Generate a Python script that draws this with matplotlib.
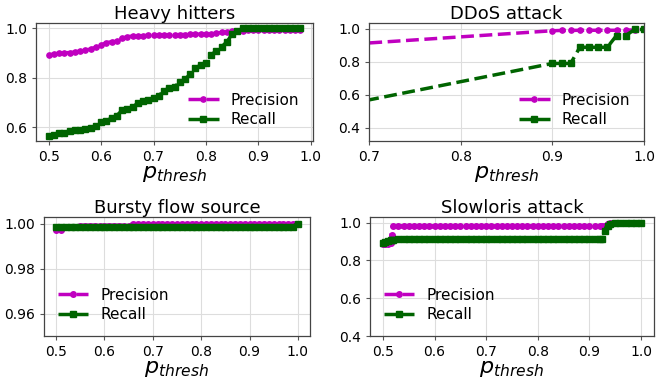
import matplotlib
matplotlib.use('Agg')
import matplotlib.pyplot as plt

# ---------------- data ----------------
hh_x = [0.50, 0.51, 0.52, 0.53, 0.54, 0.55, 0.56, 0.57, 0.58, 0.59,
        0.60, 0.61, 0.62, 0.63, 0.64, 0.65, 0.66, 0.67, 0.68, 0.69,
        0.70, 0.71, 0.72, 0.73, 0.74, 0.75, 0.76, 0.77, 0.78, 0.79,
        0.80, 0.81, 0.82, 0.83, 0.84, 0.85, 0.86, 0.87, 0.88, 0.89,
        0.90, 0.91, 0.92, 0.93, 0.94, 0.95, 0.96, 0.97, 0.98]
hh_precision = [0.893, 0.896, 0.900, 0.902, 0.902, 0.904, 0.909, 0.913, 0.916, 0.924,
                0.933, 0.942, 0.946, 0.949, 0.960, 0.966, 0.969, 0.969, 0.970, 0.972,
                0.973, 0.973, 0.973, 0.974, 0.974, 0.975, 0.975, 0.976, 0.976, 0.977,
                0.977, 0.978, 0.980, 0.984, 0.987, 0.989, 0.990, 0.991, 0.992, 0.992,
                0.993, 0.993, 0.994, 0.994, 0.994, 0.995, 0.995, 0.995, 0.995]
hh_recall = [0.567, 0.569, 0.577, 0.578, 0.584, 0.588, 0.590, 0.594, 0.598, 0.605,
             0.621, 0.628, 0.637, 0.648, 0.669, 0.675, 0.681, 0.699, 0.707, 0.712,
             0.719, 0.728, 0.749, 0.759, 0.765, 0.782, 0.795, 0.815, 0.839, 0.853,
             0.859, 0.893, 0.910, 0.926, 0.946, 0.977, 0.989, 1.000, 1.000, 1.000,
             1.000, 1.000, 1.000, 1.000, 1.000, 1.000, 1.000, 1.000, 1.000]

ddos_x = [0.50, 0.90, 0.91, 0.92, 0.93, 0.94, 0.95, 0.96, 0.97, 0.98, 0.99, 1.00]
ddos_precision = [0.840, 0.988, 0.990, 0.990, 0.991, 0.991, 0.991, 0.991, 0.991, 0.992, 0.993, 0.996]
ddos_recall = [0.348, 0.790, 0.790, 0.790, 0.888, 0.888, 0.888, 0.888, 0.959, 0.959, 0.996, 0.996]

bursty_x = [0.50, 0.51, 0.52, 0.53, 0.54, 0.55, 0.56, 0.57, 0.58, 0.59,
            0.60, 0.61, 0.62, 0.63, 0.64, 0.65, 0.66, 0.67, 0.68, 0.69,
            0.70, 0.71, 0.72, 0.73, 0.74, 0.75, 0.76, 0.77, 0.78, 0.79,
            0.80, 0.81, 0.82, 0.83, 0.84, 0.85, 0.86, 0.87, 0.88, 0.89,
            0.90, 0.91, 0.92, 0.93, 0.94, 0.95, 0.96, 0.97, 0.98, 0.99, 1.00]
bursty_precision = [0.9972, 0.9972, 0.9985, 0.9985, 0.9985, 0.9990, 0.9990, 0.9990, 0.9990, 0.9990,
                    0.9990, 0.9990, 0.9990, 0.9990, 0.9990, 0.9990, 0.9998, 0.9998, 0.9998, 0.9998,
                    0.9998, 0.9998, 0.9998, 0.9998, 0.9998, 0.9998, 0.9998, 0.9998, 0.9998, 0.9998,
                    0.9998, 0.9998, 0.9998, 0.9998, 0.9998, 0.9998, 0.9998, 0.9998, 0.9998, 0.9998,
                    0.9998, 0.9998, 0.9998, 0.9998, 0.9998, 0.9998, 0.9998, 0.9998, 0.9998, 0.9998, 0.9998]
bursty_recall = [0.9985, 0.9985, 0.9985, 0.9985, 0.9985, 0.9985, 0.9985, 0.9985, 0.9985, 0.9985,
                 0.9985, 0.9985, 0.9985, 0.9985, 0.9985, 0.9985, 0.9985, 0.9985, 0.9985, 0.9985,
                 0.9985, 0.9985, 0.9985, 0.9985, 0.9985, 0.9985, 0.9985, 0.9985, 0.9985, 0.9985,
                 0.9985, 0.9985, 0.9985, 0.9985, 0.9985, 0.9985, 0.9985, 0.9985, 0.9985, 0.9985,
                 0.9985, 0.9985, 0.9985, 0.9985, 0.9985, 0.9985, 0.9985, 0.9985, 0.9985, 0.9985, 1.0000]

slow_x = [0.500, 0.505, 0.510, 0.515, 0.517, 0.520, 0.530, 0.540, 0.55, 0.56,
          0.57, 0.58, 0.59, 0.60, 0.61, 0.62, 0.63, 0.64, 0.65, 0.66,
          0.67, 0.68, 0.69, 0.70, 0.71, 0.72, 0.73, 0.74, 0.75, 0.76,
          0.77, 0.78, 0.79, 0.80, 0.81, 0.82, 0.83, 0.84, 0.85, 0.86,
          0.87, 0.88, 0.89, 0.90, 0.91, 0.92, 0.925, 0.930, 0.935, 0.94,
          0.95, 0.96, 0.97, 0.98, 0.99, 1.00]
slow_precision = [0.885, 0.886, 0.888, 0.893, 0.935, 0.980, 0.980, 0.980, 0.980, 0.980,
                  0.980, 0.980, 0.980, 0.980, 0.980, 0.980, 0.980, 0.980, 0.980, 0.980,
                  0.980, 0.980, 0.980, 0.980, 0.980, 0.980, 0.980, 0.980, 0.980, 0.980,
                  0.980, 0.980, 0.980, 0.980, 0.980, 0.980, 0.980, 0.980, 0.980, 0.980,
                  0.980, 0.980, 0.980, 0.980, 0.980, 0.980, 0.980, 0.980, 0.995, 0.997,
                  0.997, 0.997, 0.997, 0.997, 0.997, 0.997]
slow_recall = [0.890, 0.897, 0.903, 0.907, 0.908, 0.910, 0.913, 0.915, 0.915, 0.915,
               0.915, 0.915, 0.915, 0.915, 0.915, 0.915, 0.915, 0.915, 0.915, 0.915,
               0.915, 0.915, 0.915, 0.915, 0.915, 0.915, 0.915, 0.915, 0.915, 0.915,
               0.915, 0.915, 0.915, 0.915, 0.915, 0.915, 0.915, 0.915, 0.915, 0.915,
               0.915, 0.915, 0.915, 0.915, 0.915, 0.915, 0.915, 0.955, 0.985, 0.995,
               1.000, 1.000, 1.000, 1.000, 1.000, 1.000]

titles = ["Heavy hitters", "DDoS attack", "Bursty flow source", "Slowloris attack"]
labels = ["Precision", "Recall"]

# ---------------- style ----------------
PREC_COLOR = '#c000c0'
REC_COLOR = '#006400'

fig = plt.figure(figsize=(6.56, 3.85), dpi=100)

positions = [
    [36 / 656, 1 - 141 / 385, (313 - 36) / 656, (141 - 23) / 385],
    [369 / 656, 1 - 141 / 385, (644 - 369) / 656, (141 - 23) / 385],
    [44 / 656, 1 - 336 / 385, (310 - 44) / 656, (336 - 217) / 385],
    [370 / 656, 1 - 336 / 385, (654 - 370) / 656, (336 - 217) / 385],
]

datasets = [
    (hh_x, hh_precision, hh_recall),
    (ddos_x, ddos_precision, ddos_recall),
    (bursty_x, bursty_precision, bursty_recall),
    (slow_x, slow_precision, slow_recall),
]

legend_locs = ['lower right', 'lower right', 'lower left', 'lower left']
line_widths = [2.5, 2.5, 3.4, 3.4]
marker_sizes = [3.8, 3.8, 4.0, 4.0]
yticks = [[0.6, 0.8, 1.0], [0.4, 0.6, 0.8, 1.0], [0.96, 0.98, 1.00], [0.4, 0.6, 0.8, 1.0]]
ytick_labels = [["0.6", "0.8", "1.0"], ["0.4", "0.6", "0.8", "1.0"],
                ["0.96", "0.98", "1.00"], ["0.4", "0.6", "0.8", "1.0"]]
xticks = [[0.5, 0.6, 0.7, 0.8, 0.9, 1.0], [0.7, 0.8, 0.9, 1.0],
          [0.5, 0.6, 0.7, 0.8, 0.9, 1.0], [0.5, 0.6, 0.7, 0.8, 0.9, 1.0]]
xlims = [None, (0.7, 1.0), None, None]
ylims = [None, (0.32, 1.035), (0.95, 1.003), (0.4, 1.03)]

for i, pos in enumerate(positions):
    ax = fig.add_axes(pos)
    x, p, r = datasets[i]
    ax.plot(x, p, linestyle='--', color=PREC_COLOR, marker='o', markersize=marker_sizes[i],
            linewidth=line_widths[i], label=labels[0])
    ax.plot(x, r, linestyle='--', color=REC_COLOR, marker='s', markersize=marker_sizes[i],
            linewidth=line_widths[i], label=labels[1])
    if xlims[i] is not None:
        ax.set_xlim(*xlims[i])
    if ylims[i] is not None:
        ax.set_ylim(*ylims[i])
    ax.set_xticks(xticks[i])
    ax.set_yticks(yticks[i])
    ax.set_yticklabels(ytick_labels[i])
    ax.tick_params(labelsize=10, length=3, color='#555555')
    ax.grid(True, color='#dddddd', linewidth=0.8)
    ax.set_axisbelow(True)
    for s in ax.spines.values():
        s.set_color('#444444')
        s.set_linewidth(0.9)
    ax.set_title(titles[i], fontsize=13, pad=3)
    ax.set_xlabel(r'$p_{thresh}$', fontsize=16, labelpad=0)
    leg = ax.legend(loc=legend_locs[i], frameon=False, fontsize=11, numpoints=1,
                    handlelength=2.0, labelspacing=0.3)
    for h in leg.get_lines():
        h.set_linewidth(2.5)

fig.savefig('out.png', dpi=100)
